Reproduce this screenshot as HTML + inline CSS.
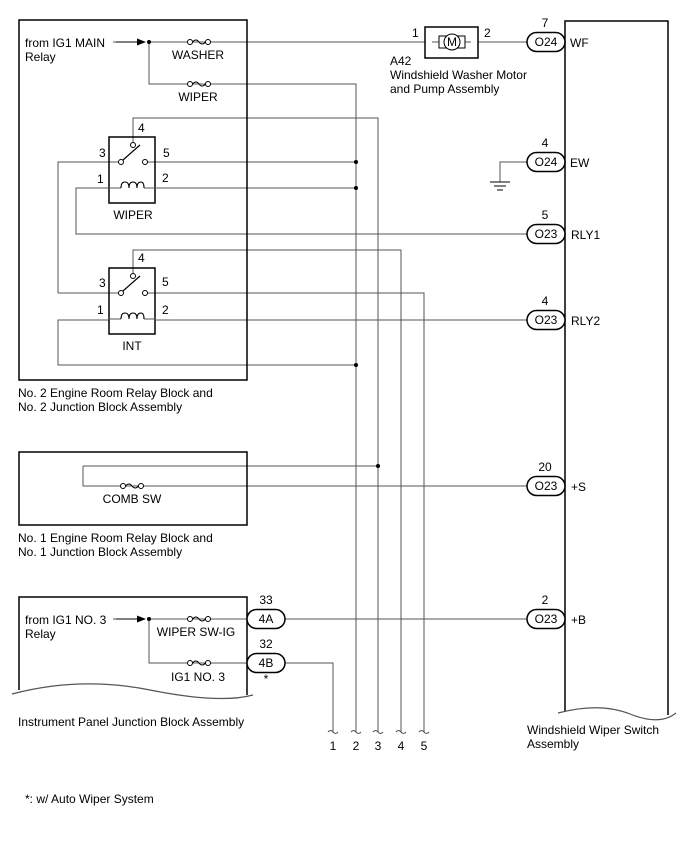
<!DOCTYPE html>
<html><head><meta charset="utf-8"><style>
body{margin:0;background:#fff}
svg{display:block}
text{font-family:"Liberation Sans",Arial,sans-serif;font-size:12px;fill:#000}
</style></head><body>
<svg width="688" height="852" viewBox="0 0 688 852" xmlns="http://www.w3.org/2000/svg">
<defs>
<g id="fuse"><circle cx="-9" cy="0" r="2.5" fill="#fff" stroke="#000" stroke-width="1"/><circle cx="9" cy="0" r="2.5" fill="#fff" stroke="#000" stroke-width="1"/><path d="M-6.5 0 Q-3 -4 0 0 T6.5 0" fill="none" stroke="#000" stroke-width="1"/></g>
<g id="relay">
<rect x="0" y="0" width="46" height="66" fill="none" stroke="#000" stroke-width="1.5"/>
<circle cx="24" cy="8" r="2.5" fill="#fff" stroke="#000"/>
<circle cx="12" cy="25" r="2.5" fill="#fff" stroke="#000"/>
<circle cx="36" cy="25" r="2.5" fill="#fff" stroke="#000"/>
<line x1="14" y1="23" x2="31" y2="8" stroke="#000" stroke-width="1.2"/>
<path d="M-0.5 51 H12 M35 51 H46.5" stroke="#555" fill="none"/>
<path d="M12 51 Q12 45 16 45 Q20 45 20 51 Q20 45 24 45 Q28 45 28 51 Q28 45 32 45 Q35 45 35 51" fill="none" stroke="#000" stroke-width="1.1"/>
<path d="M17 51 v3 M25 51 v3" stroke="#000" stroke-width="0"/>
</g>
<g id="conn"><rect x="0" y="-9.5" width="38" height="19" rx="9.5" fill="#fff" stroke="#000" stroke-width="1.5"/></g>
</defs>
<g stroke="#555" stroke-width="1" fill="none">
<!-- top wires -->
<path d="M149 42 H425 M478 42 H527"/>
<path d="M149 42 V84 H356 V732"/>
<path d="M133 145 V118 H378 V732"/>
<path d="M58 293 V162 H121 M145 162 H356"/>
<path d="M109 188 H76 V234 H527 M156 188 H356"/>
<path d="M133 276 V250 H401 V732"/>
<path d="M58 293 H121 M145 293 H424 V732"/>
<path d="M156 320 H527 M109 320 H58 V365 H356"/>
<path d="M527 162 H500 V182"/>
<path d="M83 466 H378 M83 466 V486 H527"/>
<path d="M149 619 H527 M149 619 V663 H247 M285 663 H333 V732"/>
<path d="M345 42 H527 M478 42"/>
<path d="M113 42 H125 M113 619 H125"/>
</g>
<!-- arrows -->
<path d="M116 42 H137" stroke="#000"/><polygon points="137,38.5 146,42 137,45.5" fill="#000"/>
<path d="M116 619 H137" stroke="#000"/><polygon points="137,615.5 146,619 137,622.5" fill="#000"/>
<!-- dots -->
<g fill="#000"><circle cx="149" cy="42" r="2"/><circle cx="356" cy="162" r="2"/><circle cx="356" cy="188" r="2"/><circle cx="356" cy="365" r="2"/><circle cx="378" cy="466" r="2"/><circle cx="149" cy="619" r="2"/></g>
<!-- wire end marks -->
<g stroke="#555" fill="none">
<path d="M328 732 q2.5 -3 5 0 q2.5 3 5 0"/><path d="M351 732 q2.5 -3 5 0 q2.5 3 5 0"/><path d="M373 732 q2.5 -3 5 0 q2.5 3 5 0"/><path d="M396 732 q2.5 -3 5 0 q2.5 3 5 0"/><path d="M419 732 q2.5 -3 5 0 q2.5 3 5 0"/>
</g>
<!-- ground -->
<g stroke="#000"><line x1="490" y1="182" x2="510" y2="182"/><line x1="494" y1="186" x2="506" y2="186"/><line x1="497" y1="190" x2="503" y2="190"/></g>
<!-- fuses -->
<use href="#fuse" x="199" y="42"/><use href="#fuse" x="199" y="84"/><use href="#fuse" x="132" y="486"/><use href="#fuse" x="199" y="619"/><use href="#fuse" x="199" y="663"/>
<!-- relays -->
<use href="#relay" x="109" y="137"/><use href="#relay" x="109" y="268"/>
<!-- boxes -->
<g fill="none" stroke="#000" stroke-width="1.5">
<rect x="19" y="20" width="228" height="360"/>
<rect x="19" y="452" width="228" height="73"/>
<path d="M19 690 V597 H247 V695"/>
<path d="M565 712 V21 H668 V715"/>
</g>
<path d="M12 694 Q80 676 150 690 T253 695" fill="none" stroke="#555" stroke-width="1.2"/>
<path d="M558 713 Q600 702 630 714 T676 713" fill="none" stroke="#555" stroke-width="1.2"/>
<!-- motor -->
<rect x="425" y="27" width="53" height="31" fill="#fff" stroke="#000" stroke-width="1.5"/>
<line x1="432" y1="42" x2="471" y2="42" stroke="#555"/>
<rect x="439" y="36" width="26" height="12" fill="#fff" stroke="#000"/>
<circle cx="452" cy="42" r="8" fill="#fff" stroke="#000"/>
<text x="452" y="46" font-size="10" text-anchor="middle">M</text>
<!-- connectors -->
<use href="#conn" x="527" y="42"/><use href="#conn" x="527" y="162"/><use href="#conn" x="527" y="234"/><use href="#conn" x="527" y="320"/><use href="#conn" x="527" y="486"/><use href="#conn" x="527" y="619"/>
<use href="#conn" x="247" y="619"/><use href="#conn" x="247" y="663"/>
<g text-anchor="middle">
<text x="546" y="46">O24</text><text x="546" y="166">O24</text><text x="546" y="238">O23</text><text x="546" y="324">O23</text><text x="546" y="490">O23</text><text x="546" y="623">O23</text>
<text x="266" y="623">4A</text><text x="266" y="667">4B</text>
<text x="545" y="27">7</text><text x="545" y="147">4</text><text x="545" y="219">5</text><text x="545" y="305">4</text><text x="545" y="471">20</text><text x="545" y="604">2</text>
<text x="266" y="604">33</text><text x="266" y="648">32</text><text x="266" y="683" font-size="10">*</text>
<text x="198" y="59">WASHER</text><text x="198" y="101">WIPER</text><text x="133" y="219">WIPER</text><text x="132" y="350">INT</text>
<text x="132" y="503">COMB SW</text><text x="196" y="636">WIPER SW-IG</text><text x="198" y="681">IG1 NO. 3</text>
<text x="333" y="750">1</text><text x="356" y="750">2</text><text x="378" y="750">3</text><text x="401" y="750">4</text><text x="424" y="750">5</text>
</g>
<text x="570" y="47">WF</text><text x="570" y="167">EW</text><text x="571" y="239">RLY1</text><text x="571" y="325">RLY2</text><text x="571" y="491">+S</text><text x="571" y="624">+B</text>
<text x="99" y="157">3</text><text x="163" y="157">5</text><text x="138" y="132">4</text><text x="97" y="183">1</text><text x="162" y="182">2</text>
<text x="99" y="287">3</text><text x="162" y="286">5</text><text x="138" y="262">4</text><text x="97" y="314">1</text><text x="162" y="314">2</text>
<text x="412" y="37">1</text><text x="484" y="37">2</text>
<text x="25" y="47">from IG1 MAIN</text><text x="25" y="61">Relay</text>
<text x="25" y="624">from IG1 NO. 3</text><text x="25" y="638">Relay</text>
<text x="390" y="65">A42</text><text x="390" y="79">Windshield Washer Motor</text><text x="390" y="93">and Pump Assembly</text>
<text x="18" y="397">No. 2 Engine Room Relay Block and</text><text x="18" y="411">No. 2 Junction Block Assembly</text>
<text x="18" y="542">No. 1 Engine Room Relay Block and</text><text x="18" y="556">No. 1 Junction Block Assembly</text>
<text x="18" y="726">Instrument Panel Junction Block Assembly</text>
<text x="527" y="734">Windshield Wiper Switch</text><text x="527" y="748">Assembly</text>
<text x="25" y="803">*: w/ Auto Wiper System</text>
</svg>
</body></html>
